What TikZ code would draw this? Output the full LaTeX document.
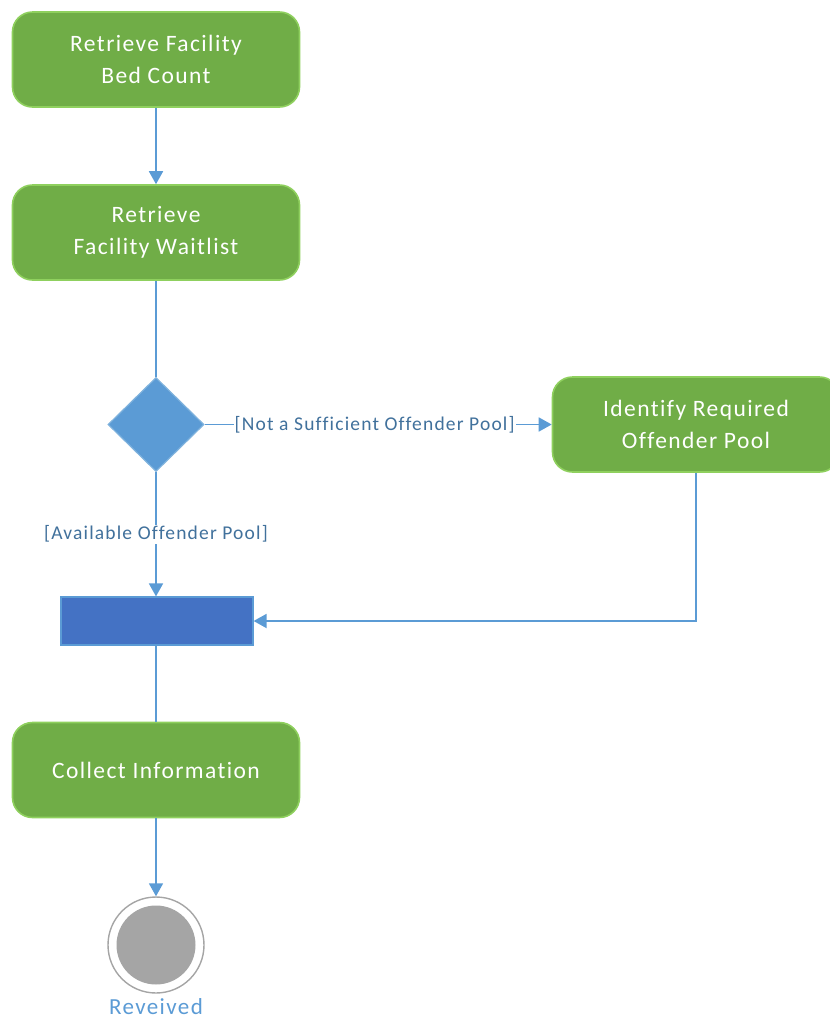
\documentclass[tikz,border=0pt]{standalone}
\usepackage{fontspec}
\setmainfont{Carlito}
\newfontfamily\spaced[LetterSpace=6,Ligatures=NoCommon]{Carlito}
\usetikzlibrary{arrows.meta,shapes.geometric}
\definecolor{actfill}{HTML}{70AD47}
\definecolor{actdraw}{HTML}{8FD05E}
\definecolor{flow}{HTML}{5B9BD5}
\definecolor{lbl}{HTML}{41719C}
\definecolor{barfill}{HTML}{4472C4}
\definecolor{bardraw}{HTML}{5B9BD5}
\definecolor{decdraw}{HTML}{7FB2DD}
\definecolor{finfill}{HTML}{A5A5A5}
\begin{document}
\begin{tikzpicture}[x=1pt,y=-1pt,
  action/.style={rectangle,rounded corners=20pt,fill=actfill,draw=actdraw,line width=1.6pt,
    minimum width=287pt,minimum height=95pt,text=white,align=center,font=\spaced\fontsize{23.5}{32}\selectfont},
  flowline/.style={draw=flow,line width=1.8pt},
  arr/.style={flowline,-{Triangle[length=13pt,width=14pt]}},
  guard/.style={fill=white,text=lbl,font=\spaced\fontsize{19.5}{22}\selectfont,inner sep=1pt}]
\useasboundingbox (0,0) rectangle (830,1021);
\node[action] (a1) at (156,59.5) {Retrieve Facility\\Bed Count};
\node[action] (a2) at (156,232.5) {Retrieve\\Facility Waitlist};
\node[diamond,fill=flow,draw=decdraw,line width=1.2pt,minimum width=96pt,minimum height=94pt,inner sep=0pt] (d) at (156,424.5) {};
\node[action] (a3) at (696,424.5) {Identify Required\\Offender Pool};
\node[rectangle,fill=barfill,draw=bardraw,line width=1.2pt,minimum width=192pt,minimum height=48pt,inner sep=0pt] (bar) at (157,621) {};
\node[action] (a4) at (156,770) {Collect Information};
\node[circle,draw=finfill,line width=1.4pt,minimum size=96pt,inner sep=0pt] (fin) at (156,945) {};
\node[circle,fill=finfill,minimum size=79pt,inner sep=0pt] at (fin.center) {};
\node[text=flow,font=\spaced\fontsize{23}{26}\selectfont,inner sep=0pt] (finl) at (156,1007) {Reveived};

\draw[arr] (a1.south) -- (a2.north);
\draw[flowline] (a2.south) -- (d.north);
\draw[arr] (d.east) -- node[guard,pos=0.49] {[Not a Sufficient Offender Pool]} (a3.west);
\draw[arr] (d.south) -- node[guard,pos=0.5] {[Available Offender Pool]} (bar.north -| d.south);
\draw[arr] (a3.south) |- (bar.east);
\draw[flowline] (bar.south -| a4.north) -- (a4.north);
\draw[arr] (a4.south) -- (fin.north);
\end{tikzpicture}
\end{document}
